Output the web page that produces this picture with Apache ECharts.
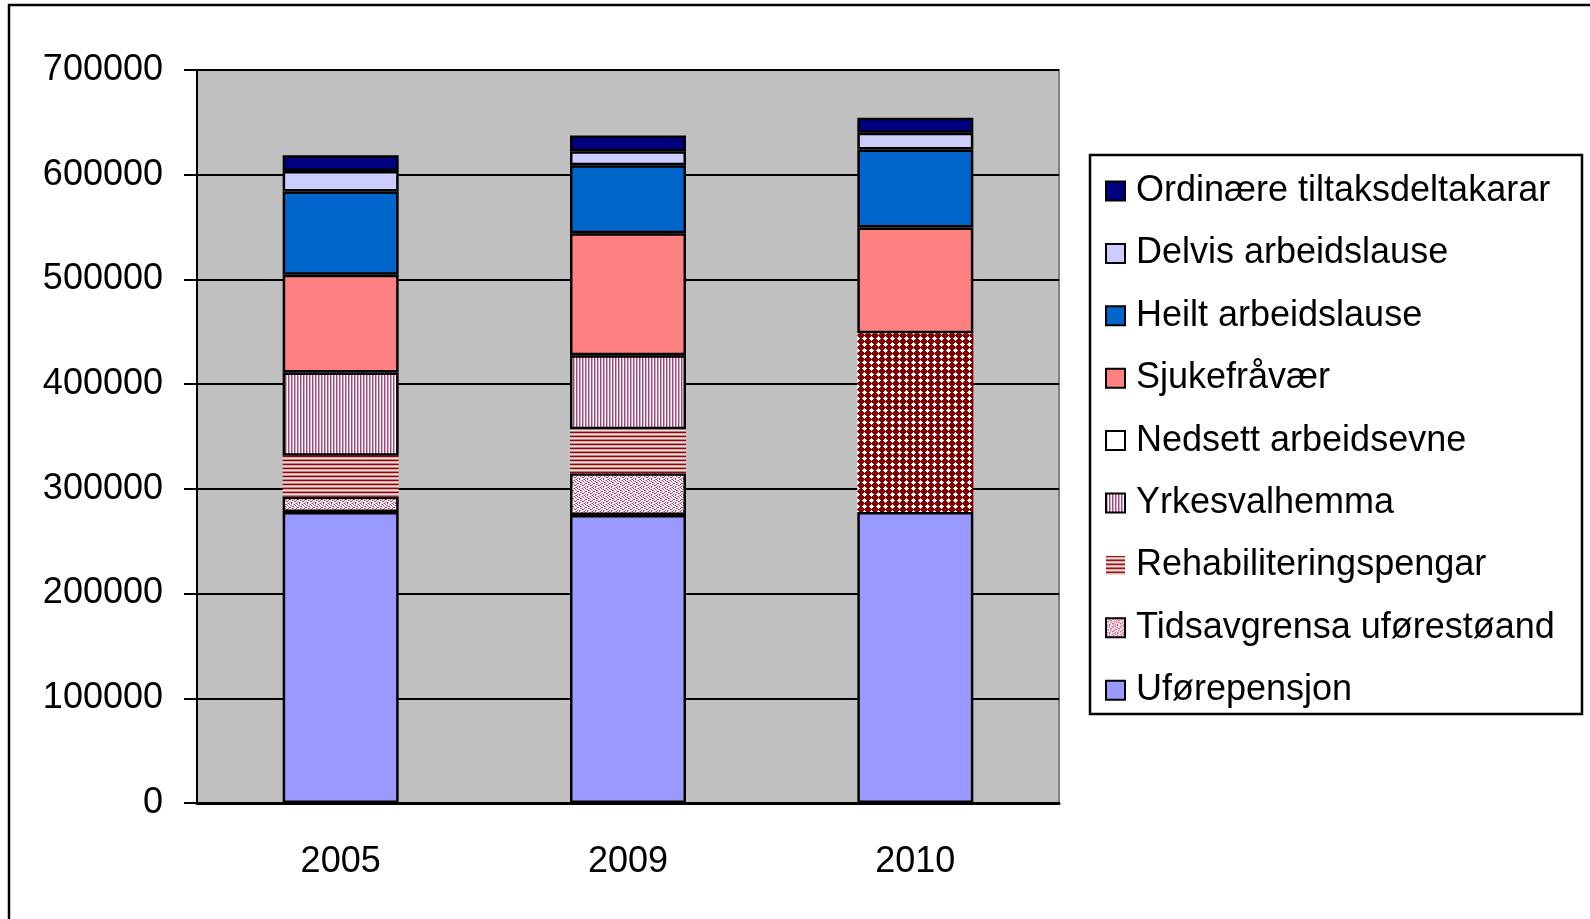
<!DOCTYPE html>
<html>
<head>
<meta charset="utf-8">
<script src="https://cdn.jsdelivr.net/npm/echarts@6/dist/echarts.min.js"></script>
<style>
html,body{margin:0;padding:0;background:#fff;}
#chart{width:1590px;height:919px;}
</style>
</head>
<body>
<div id="chart"></div>
<script>
// ---- data ----
var categories = ['2005', '2009', '2010'];
var yTicks = [0, 100000, 200000, 300000, 400000, 500000, 600000, 700000];
var uforepensjon = [278000, 275000, 278000];
var tidsavgrensa = [14500, 40000, null];
var rehabilitering = [39000, 42000, null];
var yrkesvalhemma = [79500, 70500, null];
var nedsett = [null, null, 170500];
var sjukefravaer = [93500, 116500, 101000];
var heiltArbeidslause = [79500, 65000, 74500];
var delvisArbeidslause = [19500, 13500, 16000];
var ordinaere = [15000, 15000, 14500];
var legendOrder = ['Ordinære tiltaksdeltakarar', 'Delvis arbeidslause', 'Heilt arbeidslause', 'Sjukefråvær',
  'Nedsett arbeidsevne', 'Yrkesvalhemma', 'Rehabiliteringspengar', 'Tidsavgrensa uførestøand', 'Uførepensjon'];

// ---- patterns ----
function tile(w, h, bg, pixels) {
  var c = document.createElement('canvas');
  c.width = w; c.height = h;
  var ctx = c.getContext('2d');
  ctx.fillStyle = bg; ctx.fillRect(0, 0, w, h);
  pixels.forEach(function (p) { ctx.fillStyle = p[2]; ctx.fillRect(p[0], p[1], 1, 1); });
  return { image: c, repeat: 'repeat' };
}
function cols(w, colors) { // vertical stripes
  var px = []; colors.forEach(function (c, i) { px.push([i, 0, c]); });
  return tile(w, 1, '#fff', px);
}
function rows(h, colors) { // horizontal stripes
  var px = []; colors.forEach(function (c, i) { px.push([0, i, c]); });
  return tile(1, h, '#fff', px);
}
var M = '#C0306A', P = '#E089AA', W = '#FFFFFF', L = '#F0C0C0';
var yrkesPat = cols(3, ['#A3477A', '#D9A6C0', '#FFFFFF']);
var rehabPat = rows(4, ['#8E0A0A', '#D8A8A8', '#F4E2E2', '#C27C7C']);
var tidsPat = tile(8, 8, '#FFFFFF', [
  [1,0,M],[5,0,P],[6,0,M],[3,1,M],[7,1,M],[2,1,P],[0,2,P],[5,2,M],[4,2,M],
  [2,3,M],[6,3,P],[1,3,M],[0,4,M],[4,4,M],[5,4,P],[2,5,P],[6,5,M],[7,5,M],
  [1,6,M],[4,6,P],[3,6,M],[3,7,M],[7,7,P],[0,7,M]]);
var nedPat = tile(7, 6, '#800000', [
  [3,0,L],[2,1,W],[3,1,W],[4,1,W],
  [1,2,W],[2,2,W],[3,2,W],[4,2,W],[5,2,W],
  [2,3,W],[3,3,W],[4,3,W],[3,4,L]]);

var FONT = '"Liberation Sans", Arial, sans-serif';
function ser(name, data, color, bw) {
  return {
    name: name, type: 'bar', stack: 'total', data: data, barWidth: 116,
    itemStyle: { color: color, borderColor: '#000', borderWidth: bw },
    emphasis: { disabled: true }
  };
}

var chart = echarts.init(document.getElementById('chart'), null, { renderer: 'canvas' });
chart.setOption({
  animation: false,
  backgroundColor: '#fff',
  grid: { left: 197, top: 70, right: 531, bottom: 116, show: true, backgroundColor: '#C0C0C0', borderColor: '#808080', borderWidth: 2 },
  xAxis: {
    type: 'category', data: categories,
    axisLine: { lineStyle: { color: '#000', width: 3 } },
    axisTick: { length: 13, lineStyle: { color: '#000', width: 2 } },
    axisLabel: { color: '#000', fontSize: 36, fontFamily: FONT, margin: 41 }
  },
  yAxis: {
    type: 'value', min: yTicks[0], max: yTicks[yTicks.length - 1], interval: yTicks[1] - yTicks[0],
    axisLine: { show: true, lineStyle: { color: '#000', width: 2 } },
    axisTick: { show: true, length: 13, lineStyle: { color: '#000', width: 2 } },
    axisLabel: { color: '#000', fontSize: 36, fontFamily: FONT, margin: 34, padding: [4, 0, 0, 0], formatter: function (v) { return String(v); } },
    splitLine: { lineStyle: { color: '#000', width: 2 } }
  },
  legend: {
    orient: 'vertical', left: 1105, top: 173, padding: 0, icon: 'rect',
    itemWidth: 19, itemHeight: 19, itemGap: 26.4,
    textStyle: { color: '#000', fontSize: 36, fontFamily: FONT, lineHeight: 36, padding: [0, 0, 0, 6] },
    data: legendOrder.map(function (n) {
      if (n === 'Nedsett arbeidsevne') return { name: n, itemStyle: { color: '#FFFFFF', borderColor: '#000', borderWidth: 2 } };
      return { name: n };
    })
  },
  graphic: [
    { type: 'rect', shape: { x: 9, y: 5, width: 1700, height: 1000 }, style: { fill: 'none', stroke: '#000', lineWidth: 2.5 }, silent: true },
    { type: 'rect', shape: { x: 1090, y: 155, width: 492, height: 559 }, style: { fill: 'none', stroke: '#000', lineWidth: 2.5 }, silent: true }
  ],
  series: [
    ser('Uførepensjon', uforepensjon, '#9999FF', 2.5),
    ser('Tidsavgrensa uførestøand', tidsavgrensa, tidsPat, 2.5),
    ser('Rehabiliteringspengar', rehabilitering, rehabPat, 0),
    ser('Yrkesvalhemma', yrkesvalhemma, yrkesPat, 2.5),
    ser('Nedsett arbeidsevne', nedsett, nedPat, 0),
    ser('Sjukefråvær', sjukefravaer, '#FF8080', 2.5),
    ser('Heilt arbeidslause', heiltArbeidslause, '#0066CC', 2.5),
    ser('Delvis arbeidslause', delvisArbeidslause, '#CCCCFF', 2.5),
    ser('Ordinære tiltaksdeltakarar', ordinaere, '#000080', 2.5)
  ]
});
</script>
</body>
</html>
